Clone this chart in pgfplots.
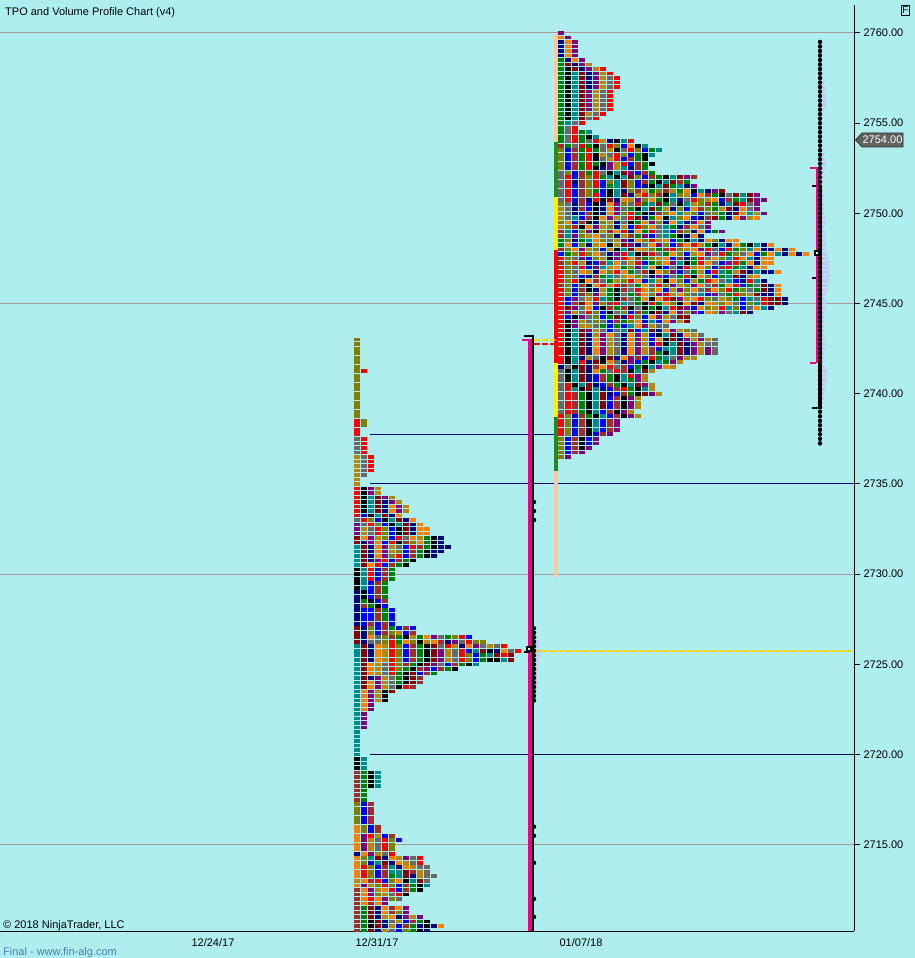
\documentclass[border=0pt]{standalone}
\usepackage{fontspec}
\setmainfont{Liberation Sans}
\usepackage{pgfplots}
\pgfplotsset{compat=1.18}

\definecolor{bg}{HTML}{AFEEEE}
\definecolor{cK}{HTML}{000000}
\definecolor{cR}{HTML}{FF0000}
\definecolor{cG}{HTML}{008000}
\definecolor{cB}{HTML}{0000FF}
\definecolor{cN}{HTML}{000080}
\definecolor{cO}{HTML}{FF8000}
\definecolor{cT}{HTML}{008B8B}
\definecolor{cL}{HTML}{808000}
\definecolor{cY}{HTML}{B8860B}
\definecolor{cA}{HTML}{696969}
\definecolor{cW}{HTML}{A52A2A}
\definecolor{cM}{HTML}{8B0000}
\definecolor{cP}{HTML}{800080}
\definecolor{peach}{HTML}{FFC8A0}
\definecolor{stripgreen}{HTML}{228B22}
\definecolor{vol}{HTML}{C2CCF2}
\definecolor{level}{HTML}{A89898}
\definecolor{gold}{HTML}{FFD700}
\definecolor{final}{HTML}{4682B4}

% TPO block, 6x3.7 px
\pgfdeclareplotmark{tpo}{\pgfpathrectangle{\pgfpoint{-3pt}{-1.85pt}}{\pgfpoint{6pt}{3.7pt}}\pgfusepathqfill}

% one row = price + letters, one letter per block, pitch 7 px
\newcount\cx
\def\scan#1{\ifx#1\relax\else
  \expandafter\xdef\csname list#1\endcsname{\csname list#1\endcsname(\the\cx,\curY)}%
  \advance\cx by 7 \expandafter\scan\fi}
\def\T#1#2{\def\curY{#1}\cx=561 \scan#2\relax}
\def\U#1#2{\def\curY{#1}\cx=357 \scan#2\relax}
\def\listK{}\def\listR{}\def\listG{}\def\listB{}\def\listN{}\def\listO{}\def\listT{}
\def\listL{}\def\listY{}\def\listA{}\def\listW{}\def\listM{}\def\listP{}

% profile of 01/07/18
\T{2760.00}{P}
\T{2759.75}{OP}
\T{2759.50}{NOP}
\T{2759.25}{NOP}
\T{2759.00}{NOP}
\T{2758.75}{NOP}
\T{2758.50}{GNOP}
\T{2758.25}{GMNPY}
\T{2758.00}{GKMNP YR}
\T{2757.75}{GKTMN PYR}
\T{2757.50}{GKTMN PYAR}
\T{2757.25}{GKTMN PYAR}
\T{2757.00}{GKTMN PYAR}
\T{2756.75}{GKTMP YAR}
\T{2756.50}{GKTMP YAR}
\T{2756.25}{GKTMP YAR}
\T{2756.00}{GKTMP YAR}
\T{2755.75}{GKTMP YAR}
\T{2755.50}{GKTMY AR}
\T{2755.25}{GKTMA R}
\T{2755.00}{GTAR}
\T{2754.75}{GAR}
\T{2754.50}{GARGT}
\T{2754.25}{GARGK T}
\T{2754.00}{GARGA RYNKT R}
\T{2753.75}{WGARG KARLB OKT}
\T{2753.50}{LBWGR GAYKA RLBGT}
\T{2753.25}{LBWGR KYARL BGKT}
\T{2753.00}{LBWGR KAYRB WGK}
\T{2752.75}{LBWGR GKPYR BWGK}
\T{2752.50}{LBWGR KNPYT NWG}
\T{2752.25}{ALBWG RAKTM PBWG}
\T{2752.00}{ARBWL RGTKT MLBWG KTMPW}
\T{2751.75}{ARNWL RBLTM LBWGK TMWG}
\T{2751.50}{ARBWL RBGTM LBNKT MGTNP}
\T{2751.25}{ARBWL GBKTN LWYGL WYGOK TNPM}
\T{2751.00}{ARBWL RBKTM NYRLW KTLYB OWGKA MTMP}
\T{2750.75}{ARBWN RKMNO YPLOG KTNAR LYOBW GTMPP}
\T{2750.50}{LANWB KNOPL ARGTM GAKTY LWGNT MRAP}
\T{2750.25}{YANWB KNOPA GKTMG YNLBO WLGYM NOAP}
\T{2750.00}{YANBW KNOPL RGKNW LOTYL BALGN MOTYP}
\T{2749.75}{YATBW KOPYA RMNGO KTLOB NWMGN OPYO}
\T{2749.50}{LOBWK NLYNA KGOPL NOTNP OP}
\T{2749.25}{YLWKO PYLNY BRLOA TGNWO AP}
\T{2749.00}{WTBLP KYWOR NOGRA TBWLN OBGP}
\T{2748.75}{WTPLY OALNY WGPBA TGKNO N}
\T{2748.50}{GLNGT OLAYP NOLRY OBGKT NOLNO O}
\T{2748.25}{GOBLN YOKYM PNAOP LBWOR YGKTN OGKTN O}
\T{2748.00}{WLOPY LBYKT MOYLG WRLYO PRABR GLTON NONO}
\T{2747.75}{BGLRL OANPR TKMRA GOLBY OPARG LAOBG OTNON O}
\T{2747.50}{RLAPB LYKPR OWGLY OBWNG RAOLT ROTNO O}
\T{2747.25}{WLRYN BWTOA YRBGL OPTKG ROABP RGONO O}
\T{2747.00}{RLARB PTYOG LPTOK BANRY OLBWR GTNOO}
\T{2746.75}{RLAOY NOLRO GAWKO LPBAG YBRTG YMNTN NO}
\T{2746.50}{RLABN WGTAY OLANP BAGRK OLBGT MNYO}
\T{2746.25}{RLRKO WAGYL ROBTY KOLBY GROAT BNRTN}
\T{2746.00}{WLBWK ORYRW AGOAR LPYLP OAWGO RBGAM NO}
\T{2745.75}{RLBWK NYGKW AROLO BYPLO AWOLR GLAGM NO}
\T{2745.50}{RLBWL PYGKA GWOLP RYOLA TBPAG RLYMN NO}
\T{2745.25}{RBPAY RTGKW AGOKO RMPYO RLAYL GBTAR MMN}
\T{2745.00}{RBWMO PLWRT AGKRG OLKOM NOYLO ABLTR MMN}
\T{2744.75}{RMPAO BKWGW KAKGK TRMPB OLYRT LBAOT N}
\T{2744.50}{RPYAR LBKAL BWGKM NOPLP BOYPA TMN}
\T{2744.25}{RBKPA LBGMN RLBOP YAMM}
\T{2744.00}{RKPYA LABWG LOBTB OPYM}
\T{2743.75}{RKPYY AGBGB TOPYA A}
\T{2743.50}{RKTMP YABAT MBTMN OPYLA}
\T{2743.25}{RKTMN YPOAN OPYBK TMNOY A}
\T{2743.00}{RKTMN OPYAN OPYBO KMNPY PYA}
\T{2742.75}{RKTMN OPYAN OPYBR KTMNP YAA}
\T{2742.50}{RKTMN OPYAN OPYWB TTMNP YPA}
\T{2742.25}{RKTMN OPYAN OPYWG KTMNP YPA}
\T{2742.00}{RKTNY AKMNO PWBRG TAPYY}
\T{2741.75}{RKTRN MKOAN PBGKT GPY}
\T{2741.50}{NAKMN WORAW BGKTP OY}
\T{2741.25}{AKTMN OGARW KTMY}
\T{2741.00}{AKTMN BWGKT RPY}
\T{2740.75}{AKTMN BWGKT GPY}
\T{2740.50}{ARKTM NBWGK TMPY}
\T{2740.25}{ARTKM TNBWR GKTY}
\T{2740.00}{ARWGK TMNBW GKMPY}
\T{2739.75}{ARWGK TMBWK PY}
\T{2739.50}{ARWGK TMBWK PY}
\T{2739.25}{ARWGK TMBWK PY}
\T{2739.00}{ARWGK TBWKP Y}
\T{2738.75}{RLBWG KTBWK PY}
\T{2738.50}{RLBWK TBWP}
\T{2738.25}{RLBWK TBWP}
\T{2738.00}{RLBWK TBWP}
\T{2737.75}{RLBWK BWP}
\T{2737.50}{LBWKB P}
\T{2737.25}{LBWKB P}
\T{2737.00}{LBWKP}
\T{2736.75}{LBWP}
\T{2736.50}{LP}

% profile of 12/31/17
\U{2743.00}{L}
\U{2742.75}{L}
\U{2742.50}{L}
\U{2742.25}{L}
\U{2742.00}{L}
\U{2741.75}{L}
\U{2741.50}{L}
\U{2741.25}{LR}
\U{2741.00}{L}
\U{2740.75}{L}
\U{2740.50}{L}
\U{2740.25}{L}
\U{2740.00}{L}
\U{2739.75}{L}
\U{2739.50}{L}
\U{2739.25}{L}
\U{2739.00}{L}
\U{2738.75}{L}
\U{2738.50}{RL}
\U{2738.25}{RL}
\U{2738.00}{R}
\U{2737.75}{R}
\U{2737.50}{AR}
\U{2737.25}{AR}
\U{2737.00}{AR}
\U{2736.75}{AR}
\U{2736.50}{YAR}
\U{2736.25}{YAR}
\U{2736.00}{YAR}
\U{2735.75}{YAR}
\U{2735.50}{YA}
\U{2735.25}{Y}
\U{2735.00}{Y}
\U{2734.75}{RKPY}
\U{2734.50}{RKPY}
\U{2734.25}{RKTMP Y}
\U{2734.00}{RKTMN PY}
\U{2733.75}{RKTMN OPY}
\U{2733.50}{RKTMN OPY}
\U{2733.25}{RBKTM NO}
\U{2733.00}{ARLBK TMNO}
\U{2732.75}{PARLB KTMNO}
\U{2732.50}{PYARL BKMNO O}
\U{2732.25}{PYARL BKMNO O}
\U{2732.00}{MOPYL BRAOY GKN}
\U{2731.75}{MNPOB RKWLO GKN}
\U{2731.50}{TMNOP YABRW GKNN}
\U{2731.25}{TMNOP YLBWG KNN}
\U{2731.00}{TMNOP LRBWG KN}
\U{2730.75}{TMNPR BWGK}
\U{2730.50}{TMORB WGK}
\U{2730.25}{KTRBW G}
\U{2730.00}{KTRBW G}
\U{2729.75}{KTRBW G}
\U{2729.50}{KTBWG}
\U{2729.25}{KTBWG}
\U{2729.00}{NKBWG}
\U{2728.75}{NKBWG}
\U{2728.50}{NGKBW}
\U{2728.25}{NWGKB}
\U{2728.00}{NBBWG B}
\U{2727.75}{NBBWG B}
\U{2727.50}{NBBWG B}
\U{2727.25}{NBWBW B}
\U{2727.00}{MNLBW GBWB}
\U{2726.75}{MNLBW LYBW}
\U{2726.50}{MNOAL WGKYG OPAGL RB}
\U{2726.25}{MNAAL RGOLK YOWNP ARLL}
\U{2726.00}{TMNOY RLBWG KMARY NOPAY AR}
\U{2725.75}{TMNOY RLBWG KMPYA RBTMK NOAR}
\U{2725.50}{TMNOY RLBWG KMPYA RLBGT MRM}
\U{2725.25}{TMNOY RLBWG KMPYA RLBGK KTM}
\U{2725.00}{TMOYA RLWGK MPABW GKT}
\U{2724.75}{TMOYA RLGKW PBWGK}
\U{2724.50}{TMOYA RGKMB WG}
\U{2724.25}{TMNPY AGKMW}
\U{2724.00}{TMOPY AGKMW}
\U{2723.75}{TMOPY AKRW}
\U{2723.50}{TOPYK M}
\U{2723.25}{TOPYK}
\U{2723.00}{TOPYK}
\U{2722.75}{TOP}
\U{2722.50}{TOP}
\U{2722.25}{TP}
\U{2722.00}{TP}
\U{2721.75}{TP}
\U{2721.50}{TP}
\U{2721.25}{T}
\U{2721.00}{T}
\U{2720.75}{T}
\U{2720.50}{T}
\U{2720.25}{T}
\U{2720.00}{T}
\U{2719.75}{KT}
\U{2719.50}{KT}
\U{2719.25}{KT}
\U{2719.00}{WGKT}
\U{2718.75}{WGKT}
\U{2718.50}{WGKT}
\U{2718.25}{WGKT}
\U{2718.00}{WG}
\U{2717.75}{WG}
\U{2717.50}{WG}
\U{2717.25}{LBW}
\U{2717.00}{LBW}
\U{2716.75}{LBW}
\U{2716.50}{LBW}
\U{2716.25}{LBW}
\U{2716.00}{OLBW}
\U{2715.75}{OLBW}
\U{2715.50}{OPRYB W}
\U{2715.25}{OPYAR LB}
\U{2715.00}{OPYAR L}
\U{2714.75}{OPYAR L}
\U{2714.50}{NOPYA R}
\U{2714.25}{OLTMN OYPAR}
\U{2714.00}{OLBTM NOYAR}
\U{2713.75}{ORLBW TNOYA A}
\U{2713.50}{ORLBW TTMWY A}
\U{2713.25}{ORLBW GTMNY AA}
\U{2713.00}{YOWRB LOKTM A}
\U{2712.75}{OPYLR LBWGK T}
\U{2712.50}{WOPYO RBWGK}
\U{2712.25}{WOPLY ARK}
\U{2712.00}{WOROP LA}
\U{2711.75}{WOWOP}
\U{2711.50}{WGMNO WOP}
\U{2711.25}{WGMNO WLP}
\U{2711.00}{WGMNY ONPYP}
\U{2710.75}{WGKMN AYBWG K}
\U{2710.50}{WGKMN YBWGN KNO}
\U{2710.25}{WGMNY ABLGK N}

\def\blocks#1{\edef\tmp{\noexpand\addplot[only marks,mark=tpo,color=c#1] coordinates {\csname list#1\endcsname};}\tmp}

\begin{document}
\begin{tikzpicture}[x=1pt,y=1pt]
\fill[bg] (0,-27) rectangle (915,931);
\useasboundingbox (0,-27) rectangle (915,931);
\begin{axis}[
  at={(0pt,0pt)}, anchor=south west,
  scale only axis, width=854pt, height=926pt,
  xmin=0, xmax=854, ymin=2710.22, ymax=2761.55,
  axis x line*=bottom, axis y line*=right,
  axis line style={-,black,line width=1pt},
  xtick={213,377,581},
  xticklabels={12/24/17,12/31/17,01/07/18},
  xtick style={draw=none},
  ytick={2715,2720,2725,2730,2735,2740,2745,2750,2755,2760},
  tick align=outside, major tick length=6pt,
  ytick style={black,line width=1pt},
  tick label style={font=\fontsize{11}{13}\selectfont},
  /pgf/number format/assume math mode=true,
  yticklabel style={/pgf/number format/fixed,/pgf/number format/fixed zerofill,
    /pgf/number format/precision=2,/pgf/number format/1000 sep={}},
  xticklabel style={yshift=2pt},
]
% round-number levels
\addplot[level,line width=1pt] coordinates {(0,2760) (854,2760)};
\addplot[level,line width=1pt] coordinates {(0,2745) (854,2745)};
\addplot[level,line width=1pt] coordinates {(0,2730) (854,2730)};
\addplot[level,line width=1pt] coordinates {(0,2715) (854,2715)};
% naked levels
\addplot[cN,line width=1pt] coordinates {(370,2737.75) (558,2737.75)};
\addplot[cN,line width=1pt] coordinates {(370,2735) (854,2735)};
\addplot[cN!60!black,line width=1pt] coordinates {(370,2720) (854,2720)};
% volume profiles
\addplot[only marks,mark=none,error bars/.cd,x dir=plus,x explicit,error mark=none,
  error bar style={line width=3.5pt,vol}] coordinates {
  (820,2759.50) +- (1,0) (820,2759.25) +- (1,0) (820,2759.00) +- (1,0) (820,2758.75) +- (1,0)
  (820,2758.50) +- (1,0) (820,2758.25) +- (1,0) (820,2758.00) +- (1,0) (820,2757.75) +- (2,0)
  (820,2757.50) +- (3,0) (820,2757.25) +- (4,0) (820,2757.00) +- (5,0) (820,2756.75) +- (5,0)
  (820,2756.50) +- (6,0) (820,2756.25) +- (6,0) (820,2756.00) +- (6,0) (820,2755.75) +- (4,0)
  (820,2755.50) +- (2,0) (820,2755.25) +- (2,0) (820,2755.00) +- (1,0) (820,2754.75) +- (1,0)
  (820,2754.50) +- (1,0) (820,2754.25) +- (1,0) (820,2754.00) +- (1,0) (820,2753.75) +- (2,0)
  (820,2753.50) +- (3,0) (820,2753.25) +- (4,0) (820,2753.00) +- (5,0)
  (820,2752.75) +- (6,0) (820,2752.50) +- (5,0) (820,2752.25) +- (4,0) (820,2752.00) +- (3,0)
  (820,2751.75) +- (3,0) (820,2751.50) +- (2,0) (820,2751.25) +- (3,0) (820,2751.00) +- (4,0)
  (820,2750.75) +- (3,0) (820,2750.50) +- (3.5,0) (820,2750.25) +- (4,0) (820,2750.00) +- (4,0)
  (820,2749.75) +- (5,0) (820,2749.50) +- (5,0) (820,2749.25) +- (4,0) (820,2749.00) +- (5,0)
  (820,2748.75) +- (5,0) (820,2748.50) +- (6,0) (820,2748.25) +- (6,0) (820,2748.00) +- (6,0)
  (820,2747.75) +- (7,0) (820,2747.50) +- (8,0) (820,2747.25) +- (9,0) (820,2747.00) +- (9,0)
  (820,2746.75) +- (9,0) (820,2746.50) +- (10,0) (820,2746.25) +- (10,0) (820,2746.00) +- (8,0)
  (820,2745.75) +- (8,0) (820,2745.50) +- (6,0) (820,2745.25) +- (5,0) (820,2745.00) +- (7,0)
  (820,2744.75) +- (6,0) (820,2744.50) +- (4,0) (820,2744.25) +- (4,0) (820,2744.00) +- (4,0)
  (820,2743.75) +- (4,0) (820,2743.50) +- (4,0) (820,2743.25) +- (4,0) (820,2743.00) +- (6,0)
  (820,2742.75) +- (6,0) (820,2742.50) +- (5,0) (820,2742.25) +- (4,0) (820,2742.00) +- (4,0)
  (820,2741.75) +- (3,0) (820,2741.50) +- (5,0) (820,2741.25) +- (7,0) (820,2741.00) +- (7,0)
  (820,2740.75) +- (7,0) (820,2740.50) +- (6,0) (820,2740.25) +- (5,0) (820,2740.00) +- (4,0)
  (820,2739.75) +- (4,0) (820,2739.50) +- (2,0) (820,2739.25) +- (2,0) (820,2739.00) +- (2,0)
  (820,2738.75) +- (1,0) (820,2738.50) +- (1,0) (820,2738.25) +- (1,0) (820,2738.00) +- (1,0)
  (820,2737.75) +- (1,0) (820,2737.50) +- (1,0) (820,2737.25) +- (1,0)
};
\addplot[only marks,mark=none,error bars/.cd,x dir=plus,x explicit,error mark=none,
  error bar style={line width=3.5pt,vol}] coordinates {
  (534,2734.00) +- (1,0) (534,2733.50) +- (1,0) (534,2733.00) +- (1,0)
  (534,2727.00) +- (1,0) (534,2726.75) +- (2,0) (534,2726.50) +- (4,0) (534,2726.25) +- (5,0)
  (534,2726.00) +- (6,0) (534,2725.75) +- (8,0) (534,2725.50) +- (7,0) (534,2725.25) +- (5,0)
  (534,2725.00) +- (4,0) (534,2724.75) +- (4,0) (534,2724.50) +- (3,0) (534,2724.25) +- (3,0)
  (534,2724.00) +- (4,0) (534,2723.75) +- (3,0) (534,2723.50) +- (2,0) (534,2723.25) +- (1,0)
  (534,2723.00) +- (1,0) (534,2716.00) +- (1,0) (534,2715.50) +- (1,0) (534,2714.00) +- (1,0)
  (534,2712.00) +- (1,0) (534,2711.00) +- (1,0)
};
% session strip beside the profile
\addplot[peach,line width=4pt] coordinates {(556,2759.94) (556,2753.96)};
\addplot[stripgreen,line width=4pt] coordinates {(556,2753.96) (556,2750.92)};
\addplot[yellow,line width=4pt] coordinates {(556,2750.92) (556,2747.96)};
\addplot[red,line width=4pt] coordinates {(556,2747.96) (556,2741.73)};
\addplot[yellow,line width=4pt] coordinates {(556,2741.73) (556,2738.70)};
\addplot[stripgreen,line width=4pt] coordinates {(556,2738.70) (556,2735.70)};
\addplot[peach,line width=4pt] coordinates {(556,2735.70) (556,2729.85)};
% TPO blocks
\blocks{K}\blocks{R}\blocks{G}\blocks{B}\blocks{N}\blocks{O}\blocks{T}
\blocks{L}\blocks{Y}\blocks{A}\blocks{W}\blocks{M}\blocks{P}
% value area and range bars, 12/31/17
\addplot[magenta,line width=4pt] coordinates {(530,2743.03) (530,2710.22)};
\addplot[black,line width=2pt] coordinates {(533,2743.25) (533,2710.22)};
\addplot[magenta,line width=2pt] coordinates {(522,2742.98) (532,2742.98)};
\addplot[black,line width=2pt] coordinates {(524,2743.2) (534,2743.2)};
\addplot[gold,line width=2pt,dash pattern=on 6pt off 2pt] coordinates {(534,2743) (555,2743)};
\addplot[red,line width=2pt,dash pattern=on 6pt off 2pt] coordinates {(534,2742.75) (555,2742.75)};
\addplot[gold,line width=2pt,dash pattern=on 6pt off 2pt] coordinates {(534,2725.75) (854,2725.75)};
\addplot[black,line width=2pt] coordinates {(524,2725.70) (530,2725.70)};
\addplot[only marks,mark=square*,mark size=2pt,draw=black,fill=white,line width=2pt] coordinates {(529,2725.85)};
% value area and range bars, 01/07/18
\addplot[magenta,line width=4pt] coordinates {(818,2752.55) (818,2741.7)};
\addplot[black,line width=2pt] coordinates {(821,2751.55) (821,2741.7)};
\addplot[black,line width=4pt] coordinates {(820,2741.7) (820,2739.15)};
\addplot[magenta,line width=2pt] coordinates {(810,2752.5) (816,2752.5)};
\addplot[magenta,line width=2pt] coordinates {(810,2741.7) (816,2741.7)};
\addplot[black,line width=2pt] coordinates {(812,2751.5) (816,2751.5)};
\addplot[black,line width=2pt] coordinates {(812,2746.44) (816,2746.44)};
\addplot[black,line width=2pt] coordinates {(812,2739.2) (822,2739.2)};
\addplot[only marks,mark=square*,mark size=2pt,draw=black,fill=white,line width=2pt] coordinates {(817,2747.8)};
\end{axis}
% last price tag
\filldraw[fill=black!62,draw=black!80,line width=0.7pt] (855.5,791) -- (862,798) -- (903,798) -- (903,784) -- (862,784) -- cycle;
\node[anchor=base,white,font=\fontsize{11}{13}\selectfont,inner sep=0pt] at (882.5,787) {2754.00};
% F button
\node[draw=black,line width=0.8pt,minimum width=7.5pt,minimum height=10pt,inner sep=0pt,
  font=\fontsize{10}{12}\selectfont] at (905.5,921) {F};
% texts
\node[anchor=base west,inner sep=0pt,font=\fontsize{11}{13}\selectfont] at (5,915) {TPO and Volume Profile Chart (v4)};
\node[anchor=base west,inner sep=0pt,font=\fontsize{11}{13}\selectfont] at (3,2) {© 2018 NinjaTrader, LLC};
\node[anchor=base west,inner sep=0pt,final,font=\fontsize{11}{13}\selectfont] at (3,-24) {Final - www.fin-alg.com};
\end{tikzpicture}
\end{document}
